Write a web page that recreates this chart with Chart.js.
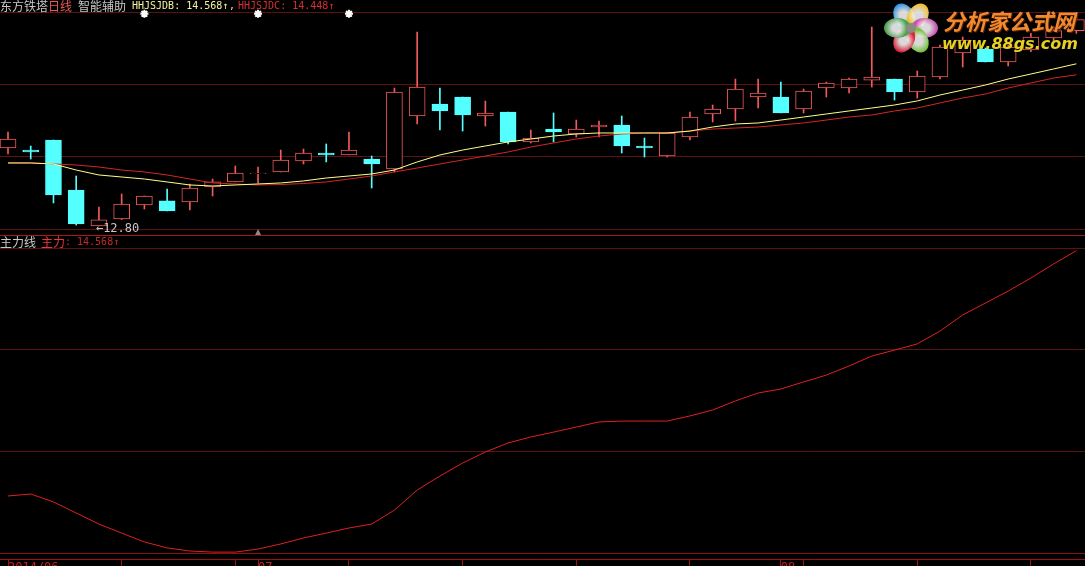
<!DOCTYPE html>
<html>
<head>
<meta charset="utf-8">
<script src="https://cdn.jsdelivr.net/npm/chart.js@4.4.0/dist/chart.umd.min.js"></script>
<style>
body{margin:0;background:#000;width:1085px;height:566px;overflow:hidden;position:relative;}
canvas{position:absolute;left:0;}
.t{position:absolute;white-space:pre;font-family:"Noto Sans CJK SC";font-size:12px;line-height:12px;}
.m{position:absolute;white-space:pre;font-family:"DejaVu Sans Mono";font-size:10px;line-height:12px;}
.petal{position:absolute;width:20px;height:27px;left:-10px;top:-27px;border-radius:50%;transform-origin:50% 100%;}
</style>
</head>
<body>
<canvas id="k" width="1085" height="236" style="top:0"></canvas>
<canvas id="z" width="1085" height="334" style="top:232px"></canvas>
<div style="position:absolute;left:0;top:235px;width:1085px;height:1px;background:#a81818"></div>

<div class="t" style="left:0;top:0;color:#c8c8c8">东方铁塔</div>
<div class="t" style="left:48px;top:0;color:#e85858">日线</div>
<div class="t" style="left:78px;top:0;color:#c8c8c8">智能辅助</div>
<div class="m" id="hb" style="left:132px;top:0;color:#f4f4a0"></div>
<div class="m" style="left:229px;top:0;color:#dddddd">,</div>
<div class="m" id="hc" style="left:238px;top:0;color:#d83030"></div>

<div class="t" style="left:0;top:236px;color:#c8c8c8">主力线</div>
<div class="t" style="left:41px;top:236px;color:#e83838">主力</div>
<div class="m" id="hz" style="left:65px;top:236px;color:#c82828"></div>

<div id="flower" style="position:absolute;left:911px;top:28px;width:0;height:0"></div>
<div style="position:absolute;left:943px;top:7px;font:italic bold 22px 'Noto Sans CJK SC';line-height:26px;color:#f08a30;text-shadow:1px 1px 0 #5a2000">分析家公式网</div>
<div style="position:absolute;left:942px;top:35px;font:italic bold 16px 'DejaVu Sans';line-height:18px;color:#e6d020">www.88gs.com</div>

<script>
// trading days shown (2014/06/16 .. 2014/08/20)
let dates = ["2014-06-16","2014-06-17","2014-06-18","2014-06-19","2014-06-20","2014-06-23","2014-06-24","2014-06-25","2014-06-26","2014-06-27","2014-06-30",
  "2014-07-01","2014-07-02","2014-07-03","2014-07-04","2014-07-07","2014-07-08","2014-07-09","2014-07-10","2014-07-11","2014-07-14","2014-07-15","2014-07-16",
  "2014-07-17","2014-07-18","2014-07-21","2014-07-22","2014-07-23","2014-07-24","2014-07-25","2014-07-28","2014-07-29","2014-07-30","2014-07-31",
  "2014-08-01","2014-08-04","2014-08-05","2014-08-06","2014-08-07","2014-08-08","2014-08-11","2014-08-12","2014-08-13","2014-08-14","2014-08-15","2014-08-18","2014-08-19","2014-08-20"];

let opens = [13.650,13.628,13.737,13.192,12.800,12.876,13.029,13.073,13.062,13.225,13.280,13.370,13.389,13.508,13.596,13.574,13.530,13.421,13.999,14.130,14.206,13.999,14.043,13.716,
  13.857,13.803,13.879,13.901,13.672,13.563,13.770,14.021,14.075,14.206,14.206,14.075,14.304,14.304,14.391,14.402,14.261,14.424,14.686,14.729,14.588,14.720,14.850,14.930];
let highs = [13.825,13.672,13.737,13.345,13.007,13.149,13.127,13.203,13.258,13.312,13.454,13.443,13.628,13.639,13.694,13.825,13.563,14.304,14.915,14.304,14.206,14.162,14.043,13.846,
  14.032,13.955,13.944,13.999,13.759,13.814,14.043,14.119,14.402,14.402,14.370,14.293,14.370,14.413,14.969,14.402,14.489,14.773,14.860,14.740,14.773,14.900,14.970,15.130];
let lows = [13.585,13.530,13.051,12.810,12.800,12.870,12.985,12.964,12.975,13.127,13.280,13.269,13.389,13.476,13.498,13.574,13.214,13.389,13.912,13.846,13.835,13.890,13.694,13.705,
  13.716,13.770,13.770,13.596,13.552,13.552,13.737,13.934,13.944,14.086,14.032,14.032,14.206,14.250,14.315,14.173,14.195,14.402,14.533,14.588,14.544,14.700,14.800,14.900];
let closes = [13.748,13.607,13.138,12.822,12.866,13.040,13.127,12.964,13.214,13.280,13.378,13.378,13.519,13.596,13.574,13.628,13.476,14.261,14.315,14.054,14.010,14.032,13.716,13.759,
  13.825,13.857,13.901,13.672,13.650,13.814,13.988,14.075,14.293,14.250,14.032,14.271,14.359,14.402,14.424,14.261,14.435,14.751,14.827,14.588,14.751,14.860,14.930,15.050];

// HHJSJDB (yellow) and HHJSJDC (red)
let hhjsjdb = [13.487,13.487,13.476,13.410,13.356,13.334,13.312,13.280,13.247,13.236,13.247,13.258,13.269,13.291,13.323,13.345,13.367,13.410,13.498,13.574,13.628,13.672,13.716,13.748,
  13.781,13.803,13.814,13.814,13.814,13.814,13.835,13.879,13.912,13.923,13.955,13.988,14.021,14.054,14.086,14.119,14.163,14.228,14.282,14.337,14.402,14.457,14.512,14.568];
let hhjsjdc = [13.487,13.487,13.476,13.465,13.443,13.410,13.389,13.356,13.312,13.269,13.258,13.247,13.252,13.263,13.280,13.312,13.345,13.389,13.432,13.476,13.519,13.563,13.607,13.661,
  13.705,13.748,13.781,13.803,13.814,13.814,13.835,13.857,13.868,13.879,13.901,13.923,13.955,13.988,14.010,14.054,14.086,14.141,14.195,14.239,14.304,14.359,14.413,14.448];

// 主力线
let zhuli = [13.458,13.467,13.431,13.381,13.331,13.290,13.250,13.223,13.209,13.204,13.204,13.218,13.241,13.268,13.290,13.313,13.331,13.394,13.485,13.548,13.607,13.657,13.698,13.725,
  13.747,13.770,13.793,13.797,13.797,13.797,13.820,13.847,13.888,13.924,13.942,13.974,14.005,14.046,14.091,14.118,14.146,14.204,14.277,14.331,14.385,14.444,14.508,14.568];

let signals = [6, 11, 15];   // white marks on top
let cursorIdx = 11;

const last = dates.length - 1;
document.getElementById('hb').textContent = 'HHJSJDB: ' + hhjsjdb[last].toFixed(3) + '↑';
document.getElementById('hc').textContent = 'HHJSJDC: ' + hhjsjdc[last].toFixed(3) + '↑';
document.getElementById('hz').textContent = ': ' + zhuli[last].toFixed(3) + '↑';

// logo flower
[['#3a98e0',-30],['#f0c030',30],['#c850b0',90],['#78c040',150],['#d82840',210],['#4aa050',270]].forEach(p => {
   let d = document.createElement('div');
   d.className = 'petal';
   d.style.background = 'radial-gradient(circle at 50% 45%, rgba(255,255,255,.85) 0 22%, ' + p[0] + ' 62%)';
   d.style.transform = 'rotate(' + p[1] + 'deg)';
   document.getElementById('flower').appendChild(d);
});
let fc = document.createElement('div');
fc.style.cssText = 'position:absolute;left:-5px;top:-5px;width:10px;height:10px;border-radius:50%;background:#8a8a80';
document.getElementById('flower').appendChild(fc);

const xMin = -0.352, xMax = 47.38;
const kLow = 12.767, kTop = 15.133;
const zBot = 13.20, zTop = 14.58;
const zMin = zBot - (zTop - zBot) * 6 / 305;

const upColor = '#f05a5a', downColor = '#54ffff';
let idx = dates.map((d, i) => i);
let isUp = idx.map(i => closes[i] >= opens[i]);
let candleColor = idx.map(i => isUp[i] ? upColor : downColor);

// x ticks: every 5 bars plus month starts
let tickIdx = [];
let tickLabels = {};
idx.forEach(i => {
   let m = dates[i].slice(5, 7);
   if (i === 0) tickLabels[i] = dates[i].slice(0, 4) + '/' + m;
   else if (m !== dates[i - 1].slice(5, 7)) tickLabels[i] = m;
   if (i % 5 === 0 || tickLabels[i]) tickIdx.push(i);
});

const lowMark = {
   id: 'lowMark',
   afterDatasetsDraw(c) {
      const ctx = c.ctx, xs = c.scales.x, ys = c.scales.y;
      const lo = Math.min(...lows), li = lows.indexOf(lo);
      ctx.save();
      ctx.fillStyle = '#c8c8c8';
      ctx.font = '12px "DejaVu Sans Mono"';
      ctx.textBaseline = 'middle';
      ctx.fillText('←' + lo.toFixed(2), xs.getPixelForValue(li) - 3, ys.getPixelForValue(lo) + 3);
      const tx = xs.getPixelForValue(cursorIdx);
      ctx.fillStyle = '#8a8a8a';
      ctx.beginPath();
      ctx.moveTo(tx - 3, 235); ctx.lineTo(tx + 3, 235); ctx.lineTo(tx, 229);
      ctx.fill();
      ctx.restore();
   }
};

const k = new Chart(document.getElementById('k'), {
   type: 'bar',
   data: {
      datasets: [
         {
            type: 'line', label: 'HHJSJDB',
            data: idx.map(i => ({x: i, y: hhjsjdb[i]})),
            borderColor: '#ffff8c', borderWidth: 1, pointRadius: 0, order: 1
         },
         {
            type: 'line', label: 'HHJSJDC',
            data: idx.map(i => ({x: i, y: hhjsjdc[i]})),
            borderColor: '#d42626', borderWidth: 1, pointRadius: 0, order: 1
         },
         {
            type: 'line', label: 'signal', showLine: false, clip: false,
            data: signals.map(i => ({x: i, y: kTop - 0.02})),
            pointStyle: 'star', pointRadius: 4, pointBorderColor: '#ffffff', pointBorderWidth: 2, order: 0
         },
         {
            label: 'body',
            data: idx.map(i => ({x: i, y: [opens[i], closes[i]]})),
            backgroundColor: idx.map(i => isUp[i] ? '#000000' : downColor),
            borderColor: candleColor,
            borderWidth: 1, borderSkipped: false,
            barThickness: 16, grouped: false, order: 2
         },
         {
            label: 'wick',
            data: idx.map(i => ({x: i, y: [lows[i], highs[i]]})),
            backgroundColor: candleColor,
            barThickness: 1, grouped: false, order: 3
         }
      ]
   },
   options: {
      responsive: false,
      animation: false,
      layout: {autoPadding: false, padding: {top: 12, bottom: 7, left: 0, right: 0}},
      plugins: {legend: {display: false}, tooltip: {enabled: false}},
      scales: {
         x: {type: 'linear', offset: false, min: xMin, max: xMax, display: false},
         y: {
            min: kLow, max: kTop,
            afterFit: s => { s.width = 0; },
            afterBuildTicks: s => { s.ticks = [0, 1, 2, 3].map(n => ({value: kLow + (kTop - kLow) * n / 3})); },
            ticks: {display: false},
            border: {display: false},
            grid: {color: '#5a1212', drawTicks: false}
         }
      }
   },
   plugins: [lowMark]
});

const z = new Chart(document.getElementById('z'), {
   type: 'line',
   data: {
      datasets: [{
         label: '主力',
         data: idx.map(i => ({x: i, y: zhuli[i]})),
         borderColor: '#e02020', borderWidth: 1, pointRadius: 0
      }]
   },
   options: {
      responsive: false,
      animation: false,
      layout: {autoPadding: false, padding: {top: 16, bottom: 0, left: 0, right: 0}},
      plugins: {legend: {display: false}, tooltip: {enabled: false}},
      scales: {
         x: {
            type: 'linear', offset: false, min: xMin, max: xMax,
            afterFit: s => { s.height = 7; },
            afterBuildTicks: s => { s.ticks = tickIdx.map(v => ({value: v})); },
            ticks: {
               autoSkip: false, maxRotation: 0, align: 'start', padding: -6,
               color: '#c82020', font: {family: 'DejaVu Sans Mono', size: 12},
               callback: v => tickLabels[v] || ''
            },
            grid: {drawOnChartArea: false, tickLength: 8, color: '#a01010'},
            border: {color: '#a01010'}
         },
         y: {
            min: zMin, max: zTop,
            afterFit: s => { s.width = 0; },
            afterBuildTicks: s => { s.ticks = [0, 1, 2, 3].map(n => ({value: zBot + (zTop - zBot) * n / 3})); },
            ticks: {display: false},
            border: {display: false},
            grid: {color: c => c.index === 0 ? '#8c1010' : '#5a1212', drawTicks: false}
         }
      }
   }
});
</script>
</body>
</html>
